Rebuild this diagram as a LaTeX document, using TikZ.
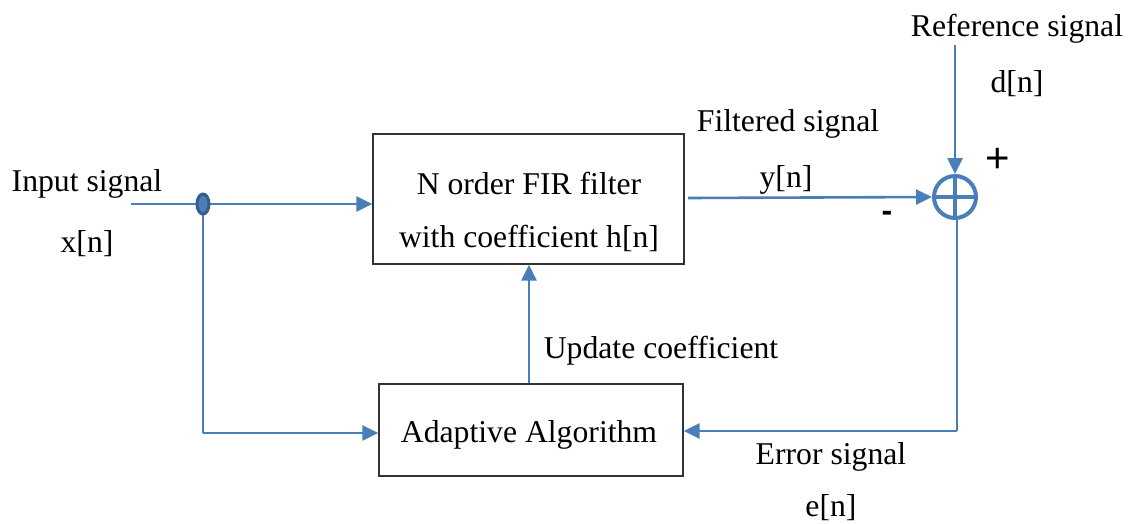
\documentclass[tikz,border=0pt]{standalone}
\usepackage{fontspec}
\setmainfont{Liberation Serif}
\newfontfamily\signfont{Liberation Sans}
\usetikzlibrary{arrows.meta,shapes.geometric}
\definecolor{lineblue}{HTML}{4A7EBB}
\definecolor{darkblue}{HTML}{385D8A}
\tikzset{
  blk/.style={draw=black!80,line width=1.3pt,inner sep=0pt},
  sig/.style={draw=lineblue,line width=2.6pt},
  arr/.style={sig,-{Triangle[length=16pt,width=15pt]}},
  lbl/.style={inner sep=0pt,font=\fontsize{31.7}{38}\selectfont},
}
\begin{document}
\begin{tikzpicture}[x=1pt,y=-1pt]
\useasboundingbox (0,0) rectangle (1131,523);
% blocks
\node[blk,minimum width=311pt,minimum height=130pt] (fir) at (528.5,199) {};
\node[lbl] at (529,183) {N order FIR filter};
\node[lbl] at (529,238) {with coefficient h[n]};
\node[blk,minimum width=304pt,minimum height=92pt] (ada) at (531,430) {};
\node[lbl] (adat) at (529,435) {Adaptive Algorithm};
% summing junction
\node[circle,draw=lineblue,line width=4pt,minimum size=42pt,inner sep=0pt] (sum) at (955,197) {};
\draw[lineblue,line width=4pt] (sum.north) -- (sum.south) (sum.west) -- (sum.east);
\node[inner sep=0pt,font=\signfont\fontsize{42}{48}\selectfont] (plus) at (998,160) {+};
\node[inner sep=0pt,font=\signfont\bfseries\fontsize{32}{38}\selectfont] (minus) at (887,216) {-};
% labels
\node[lbl] (reft) at (1017,29) {Reference signal};
\node[lbl] (dn) at (1017,84) {d[n]};
\node[lbl] (filt) at (788,124) {Filtered signal};
\node[lbl] (yn) at (786,180) {y[n]};
\node[lbl] (inp) at (87,184) {Input signal};
\node[lbl] (xn) at (87,244) {x[n]};
\node[lbl] (upd) at (661,351) {Update coefficient};
\node[lbl] (err) at (831,457) {Error signal};
\node[lbl] (en) at (831,508) {e[n]};
% coordinates
\coordinate (in0) at (131,204);
\coordinate (jn) at (203,204);
\coordinate (jd) at (203,433);
\coordinate (refs) at (955,45);
\coordinate (ec) at (957,431);
\coordinate (out0) at (688,198);
% connectors
\draw[arr] (in0) -- (fir.west |- in0);
\draw[sig] (jn) -- (jd);
\draw[arr] (jd) -- (ada.west |- jd);
\draw[arr] (out0) -- (sum.west);
\draw[arr] (refs) -- (sum.north);
\draw[sig] (sum.south -| ec) -- (ec);
\draw[arr] (ec) -- (ada.east |- ec);
\draw[arr] (ada.north -| adat) -- (fir.south -| adat);
% junction dot
\node[ellipse,draw=darkblue,fill=lineblue,line width=3pt,minimum width=12pt,minimum height=20pt,inner sep=0pt] (dot) at (jn) {};
\end{tikzpicture}
\end{document}
